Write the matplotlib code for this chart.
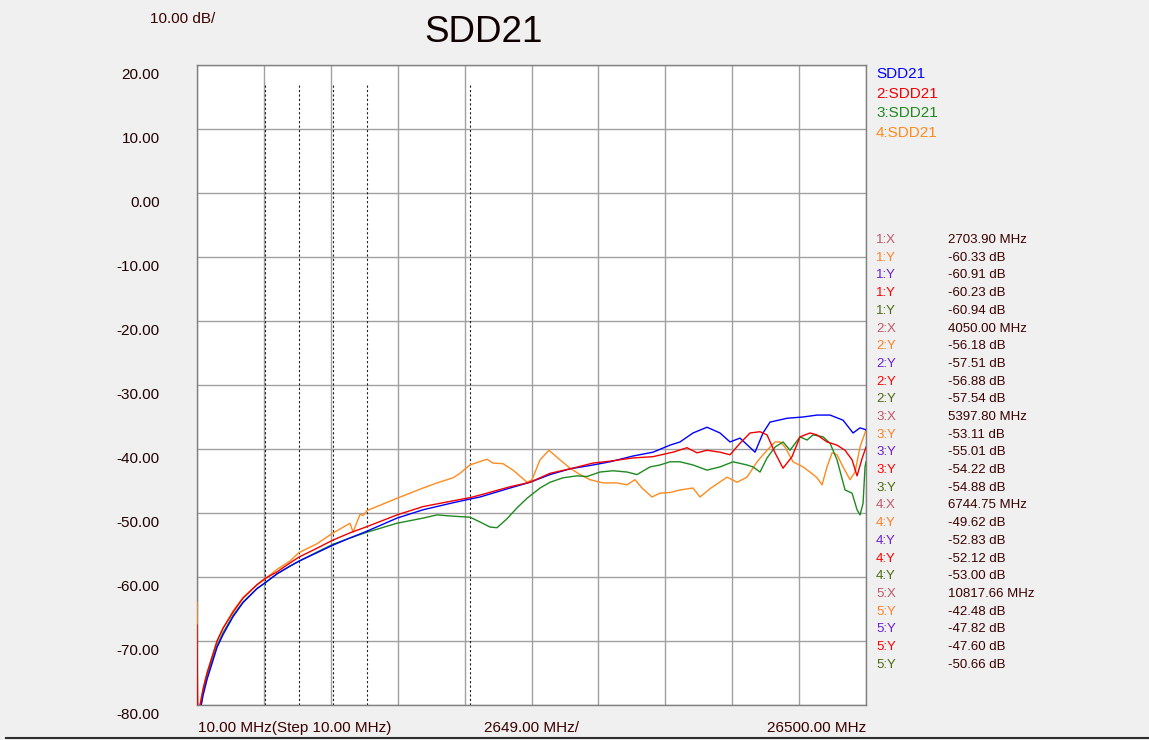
import matplotlib.pyplot as plt
from matplotlib.lines import Line2D
from matplotlib.transforms import ScaledTranslation

plt.rcParams['font.family'] = ['Liberation Sans', 'DejaVu Sans']

# trace data, frequency in MHz, value in dB
orange_f = [10, 30, 129, 248, 406, 525, 802, 1040, 1435, 1831, 2386, 2703.9, 3178, 3693, 4050,
            4762, 5397.8, 6068, 6187, 6464, 6583, 6744.75, 7929, 8959, 9513, 10147, 10424,
            10817.66, 11493, 11730, 12126, 12522, 13077, 13274, 13591, 13947, 14383, 14779,
            15175, 15571, 16086, 16640, 17036, 17353, 17630, 18026, 18343, 18739, 19135,
            19649, 19927, 20323, 20996, 21393, 21789, 22185, 22581, 22898, 23096, 23294,
            23611, 24007, 24284, 24561, 24759, 24957, 25155, 25353, 25591, 25868, 26066,
            26264, 26500]
orange_db = [-64, -81, -80, -77.5, -75, -73.5, -70, -68, -65.3, -63.2, -61.2, -60.33, -58.8, -57.5,
             -56.18, -54.8, -53.11, -51.6, -53, -50.2, -50.4, -49.62, -47.7, -46.1, -45.3, -44.5,
             -43.8, -42.48, -41.6, -42.2, -42.3, -43.3, -45.2, -44.8, -41.7, -40.2, -41.7, -43,
             -44, -44.8, -45.3, -45.3, -45.6, -44.8, -46.1, -47.5, -46.9, -46.8, -46.4, -46.1,
             -47.5, -46.2, -44.4, -45.2, -44.4, -42, -40.2, -38.9, -38.9, -39.7, -42, -42.8,
             -43.6, -44.5, -45.6, -42.8, -40.6, -40.9, -42.8, -44.8, -43.6, -39.7, -37]

blue_f = [10, 40, 129, 248, 406, 525, 802, 1040, 1435, 1831, 2386, 2703.9, 3178, 3693, 4050,
          4762, 5397.8, 6068, 6744.75, 7929, 8959, 10147, 10817.66, 11216, 12403, 13195,
          13987, 14779, 15690, 16363, 17273, 18066, 18739, 19135, 19649, 20204, 20719,
          21115, 21512, 22106, 22422, 22700, 23373, 24007, 24561, 25076, 25591, 25987,
          26264, 26500]
blue_db = [-78, -82, -81, -78.5, -76, -74.5, -71, -69, -66.2, -64, -61.8, -60.91, -59.5, -58.3,
           -57.51, -56.2, -55.01, -53.9, -52.83, -50.8, -49.5, -48.4, -47.82, -47.5, -46.1,
           -45.2, -44, -43.1, -42.5, -42, -41.1, -40.5, -39.4, -38.9, -37.5, -36.6, -37.5,
           -38.9, -38.3, -40.5, -37.5, -35.8, -35.2, -35, -34.7, -34.7, -35.5, -37.5, -36.7, -37]

red_f = [10, 30, 129, 248, 406, 525, 802, 1040, 1435, 1831, 2386, 2703.9, 3178, 3693, 4050,
         4762, 5397.8, 6068, 6744.75, 7929, 8959, 10147, 10817.66, 11216, 12403, 13195,
         13987, 14779, 15690, 16363, 17273, 18066, 18739, 18857, 19412, 19808, 20204,
         20719, 21115, 21512, 21908, 22304, 22581, 22898, 23215, 23571, 23888, 24284,
         24561, 24957, 25353, 25670, 25948, 26146, 26344, 26500]
red_db = [-67.5, -81, -80, -77.5, -75, -73.5, -70, -68, -65.5, -63.3, -61.2, -60.23, -59.2,
          -57.8, -56.88, -55.5, -54.22, -53.1, -52.12, -50.3, -49, -48.1, -47.6, -47.2, -45.9,
          -45.2, -43.8, -43.1, -42.2, -41.9, -41.4, -41.2, -40.6, -40.5, -39.8, -40.6, -40.2,
          -40.5, -40.9, -39.1, -37.5, -37.3, -37.8, -40.6, -43, -41.2, -38.1, -37.5, -37.8,
          -38.9, -39.4, -40.2, -41.7, -44.2, -41.5, -39.7]

green_f = [10, 30, 129, 248, 406, 525, 802, 1040, 1435, 1831, 2386, 2703.9, 3178, 3693, 4050,
           4762, 5397.8, 6068, 6744.75, 7929, 8959, 9513, 10147, 10817.66, 11216, 11612,
           11889, 12285, 12680, 13077, 13591, 13987, 14502, 15056, 15452, 15967, 16482,
           17036, 17432, 17947, 18343, 18739, 19135, 19649, 20204, 20719, 21234, 21789,
           22026, 22304, 22581, 22898, 23215, 23492, 23888, 24165, 24403, 24799, 25076,
           25353, 25670, 25948, 26146, 26264, 26383, 26462, 26500]
green_db = [-74, -82, -81, -78, -75.5, -74, -70.7, -68.7, -66, -63.9, -61.8, -60.94, -59.5,
            -58.3, -57.54, -56.1, -54.88, -53.9, -53.0, -51.6, -50.8, -50.3, -50.5, -50.66,
            -51.4, -52.2, -52.3, -50.9, -49.2, -47.7, -46.1, -45.2, -44.5, -44.2, -44.3, -43.6,
            -43.4, -43.6, -44, -42.8, -42.5, -42, -42, -42.5, -43.3, -42.8, -42, -42.5, -42.8,
            -43.6, -41.4, -39.7, -38.9, -40.2, -38.1, -38.6, -37.8, -38.1, -39.1, -41.7, -46.4,
            -46.9, -49.5, -50.3, -48.5, -42.8, -42]

marker_x = [2703.90, 4050.00, 5397.80, 6744.75, 10817.66]
# per marker: orange, blue, red, green
marker_y = [[-60.33, -60.91, -60.23, -60.94],
            [-56.18, -57.51, -56.88, -57.54],
            [-53.11, -55.01, -54.22, -54.88],
            [-49.62, -52.83, -52.12, -53.00],
            [-42.48, -47.82, -47.60, -50.66]]

legend_names = ['SDD21', '2:SDD21', '3:SDD21', '4:SDD21']
y_ticks = [20, 10, 0, -10, -20, -30, -40, -50, -60, -70, -80]

c_blue = '#0000ff'
c_red = '#f00000'
c_green = '#1f8a1f'
c_orange = '#ff8a1e'
txt = '#3a0000'

fig = plt.figure(figsize=(11.49, 7.4), dpi=100, facecolor='#f0f0f0')
ax = fig.add_axes([0.1715, 0.0473, 0.5822, 0.8649])
ax.set_facecolor('white')

ax.set_xlim(10, 26500)
ax.set_ylim(-80, 20)

# grid, 10 divisions each way
xg = [10 + 2649 * i for i in range(11)]
ax.set_xticks(xg)
ax.set_xticklabels([])
ax.set_yticks(y_ticks)
ax.set_yticklabels(['%.2f' % v for v in y_ticks], color='#200000', fontsize=11)
ax.tick_params(length=0, pad=27)
shift = ScaledTranslation(0, -0.03, fig.dpi_scale_trans)
for lbl in ax.get_yticklabels():
    lbl.set_verticalalignment('top')
    lbl.set_transform(lbl.get_transform() + shift)
ax.grid(True, color='#a0a0a0', lw=1)
for s in ax.spines.values():
    s.set_color('#808080')
    s.set_linewidth(1)

# marker lines
ax.vlines(marker_x, -80, 17, colors='#202020', linestyles=(0, (2, 2)), lw=0.8, zorder=2)

ax.plot(orange_f, orange_db, color=c_orange, lw=1, zorder=3)
ax.plot(green_f, green_db, color=c_green, lw=1, zorder=4)
ax.plot(blue_f, blue_db, color=c_blue, lw=1, zorder=5)
ax.plot(red_f, red_db, color=c_red, lw=1, zorder=6)

# header texts
fig.text(150 / 1149, 1 - 19 / 740, '10.00 dB/', fontsize=11, color=txt, ha='left', va='center')
fig.text(483 / 1149, 1 - 32 / 740, 'SDD21', fontsize=26.5, color='#100000', ha='center', va='center')

# bottom texts
fig.text(198 / 1149, 1 - 728 / 740, '10.00 MHz(Step 10.00 MHz)', fontsize=11, color=txt, ha='left', va='center')
fig.text(531 / 1149, 1 - 728 / 740, '2649.00 MHz/', fontsize=11, color=txt, ha='center', va='center')
fig.text(866 / 1149, 1 - 728 / 740, '26500.00 MHz', fontsize=11, color=txt, ha='right', va='center')

# legend
leg_cols = [c_blue, c_red, c_green, c_orange]
for i, (name, col) in enumerate(zip(legend_names, leg_cols)):
    fig.text(876 / 1149, 1 - (74 + 19.7 * i) / 740, name, fontsize=11, color=col,
             ha='left', va='center')

# marker readout table
lab_x = '#c05868'
lab_cols = ['#ff7f27', '#6a1ed8', '#ff0000', '#4a6a10']
row = 0
for k, (mx, vals) in enumerate(zip(marker_x, marker_y)):
    yy = 1 - (240 + 17.7 * row) / 740
    fig.text(876 / 1149, yy, '%d:X' % (k + 1), fontsize=9.5, color=lab_x, ha='left', va='center')
    fig.text(948 / 1149, yy, '%.2f MHz' % mx, fontsize=9.5, color=txt, ha='left', va='center')
    row += 1
    for v, c in zip(vals, lab_cols):
        yy = 1 - (240 + 17.7 * row) / 740
        fig.text(876 / 1149, yy, '%d:Y' % (k + 1), fontsize=9.5, color=c, ha='left', va='center')
        fig.text(948 / 1149, yy, '%.2f dB' % v, fontsize=9.5, color=txt, ha='left', va='center')
        row += 1

# bottom frame line
fig.add_artist(Line2D([6 / 1149, 1], [1 - 738 / 740] * 2, color='#303030', lw=1.5,
                      transform=fig.transFigure))

fig.savefig('out.png', dpi=100, facecolor=fig.get_facecolor())
